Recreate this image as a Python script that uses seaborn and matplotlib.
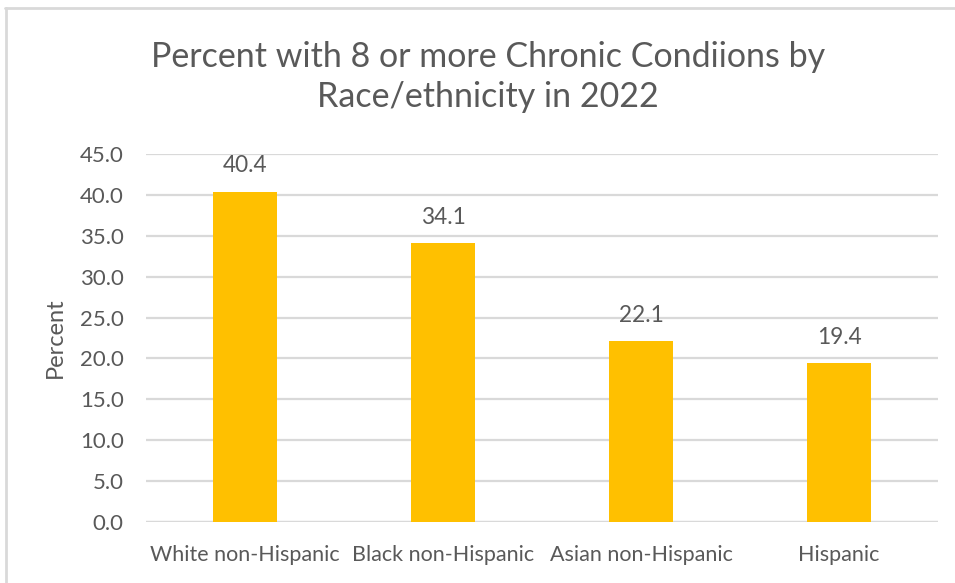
import matplotlib
matplotlib.use("Agg")
import matplotlib.pyplot as plt
from matplotlib.lines import Line2D
import seaborn as sns
import pandas as pd

categories = ["White non-Hispanic", "Black non-Hispanic", "Asian non-Hispanic", "Hispanic"]
percent = [40.4, 34.1, 22.1, 19.4]
y_ticks = [0, 5, 10, 15, 20, 25, 30, 35, 40, 45]

title = "Percent with 8 or more Chronic Condiions by\nRace/ethnicity in 2022"
y_label = "Percent"

df = pd.DataFrame({"group": categories, "percent": percent})

sns.set_theme(style="white")
plt.rcParams["font.family"] = ["Lato", "DejaVu Sans"]

text_color = "#595959"
grid_color = "#d9d9d9"
bar_color = "#FFC000"

W, H = 955, 583
fig = plt.figure(figsize=(W / 100, H / 100), dpi=100)
ax = fig.add_axes([146 / W, (H - 522) / H, (938 - 146) / W, (522 - 154) / H])

sns.barplot(data=df, x="group", y="percent", color=bar_color, width=0.32,
            saturation=1, ax=ax, zorder=3)
for p in ax.patches:
    p.set_edgecolor("none")

ax.set_xlim(-0.5, len(categories) - 0.5)
ax.set_ylim(0, 45)
ax.set_yticks(y_ticks)
ax.set_yticklabels([f"{v:.1f}" for v in y_ticks])
ax.yaxis.grid(True, color=grid_color, linewidth=1.6, zorder=0)
ax.set_axisbelow(True)
for s in ax.spines.values():
    s.set_visible(False)
ax.axhline(0, color=grid_color, linewidth=1.6, zorder=1)

ax.tick_params(axis="y", length=0, labelsize=16, colors=text_color, pad=16)
ax.tick_params(axis="x", length=0, labelsize=15.5, colors=text_color, pad=16.5)
ax.set_xlabel("")
ax.set_ylabel(y_label, fontsize=17, color=text_color, labelpad=10)

for i, v in enumerate(percent):
    ax.annotate(f"{v:.1f}", (i, v), xytext=(0, 11), textcoords="offset points",
                ha="center", va="bottom", fontsize=16.3, color=text_color)

fig.text(488 / W, (H - 77) / H, title, ha="center", va="center", fontsize=24.5,
         color=text_color, linespacing=1.3)

# frame around the chart area (top and left edges)
fig.add_artist(Line2D([5 / W, 1.0], [(H - 8) / H, (H - 8) / H],
                      transform=fig.transFigure, color=grid_color, linewidth=2))
fig.add_artist(Line2D([6 / W, 6 / W], [0, (H - 8) / H],
                      transform=fig.transFigure, color=grid_color, linewidth=2))

fig.savefig("out.png", dpi=100, facecolor="white")
